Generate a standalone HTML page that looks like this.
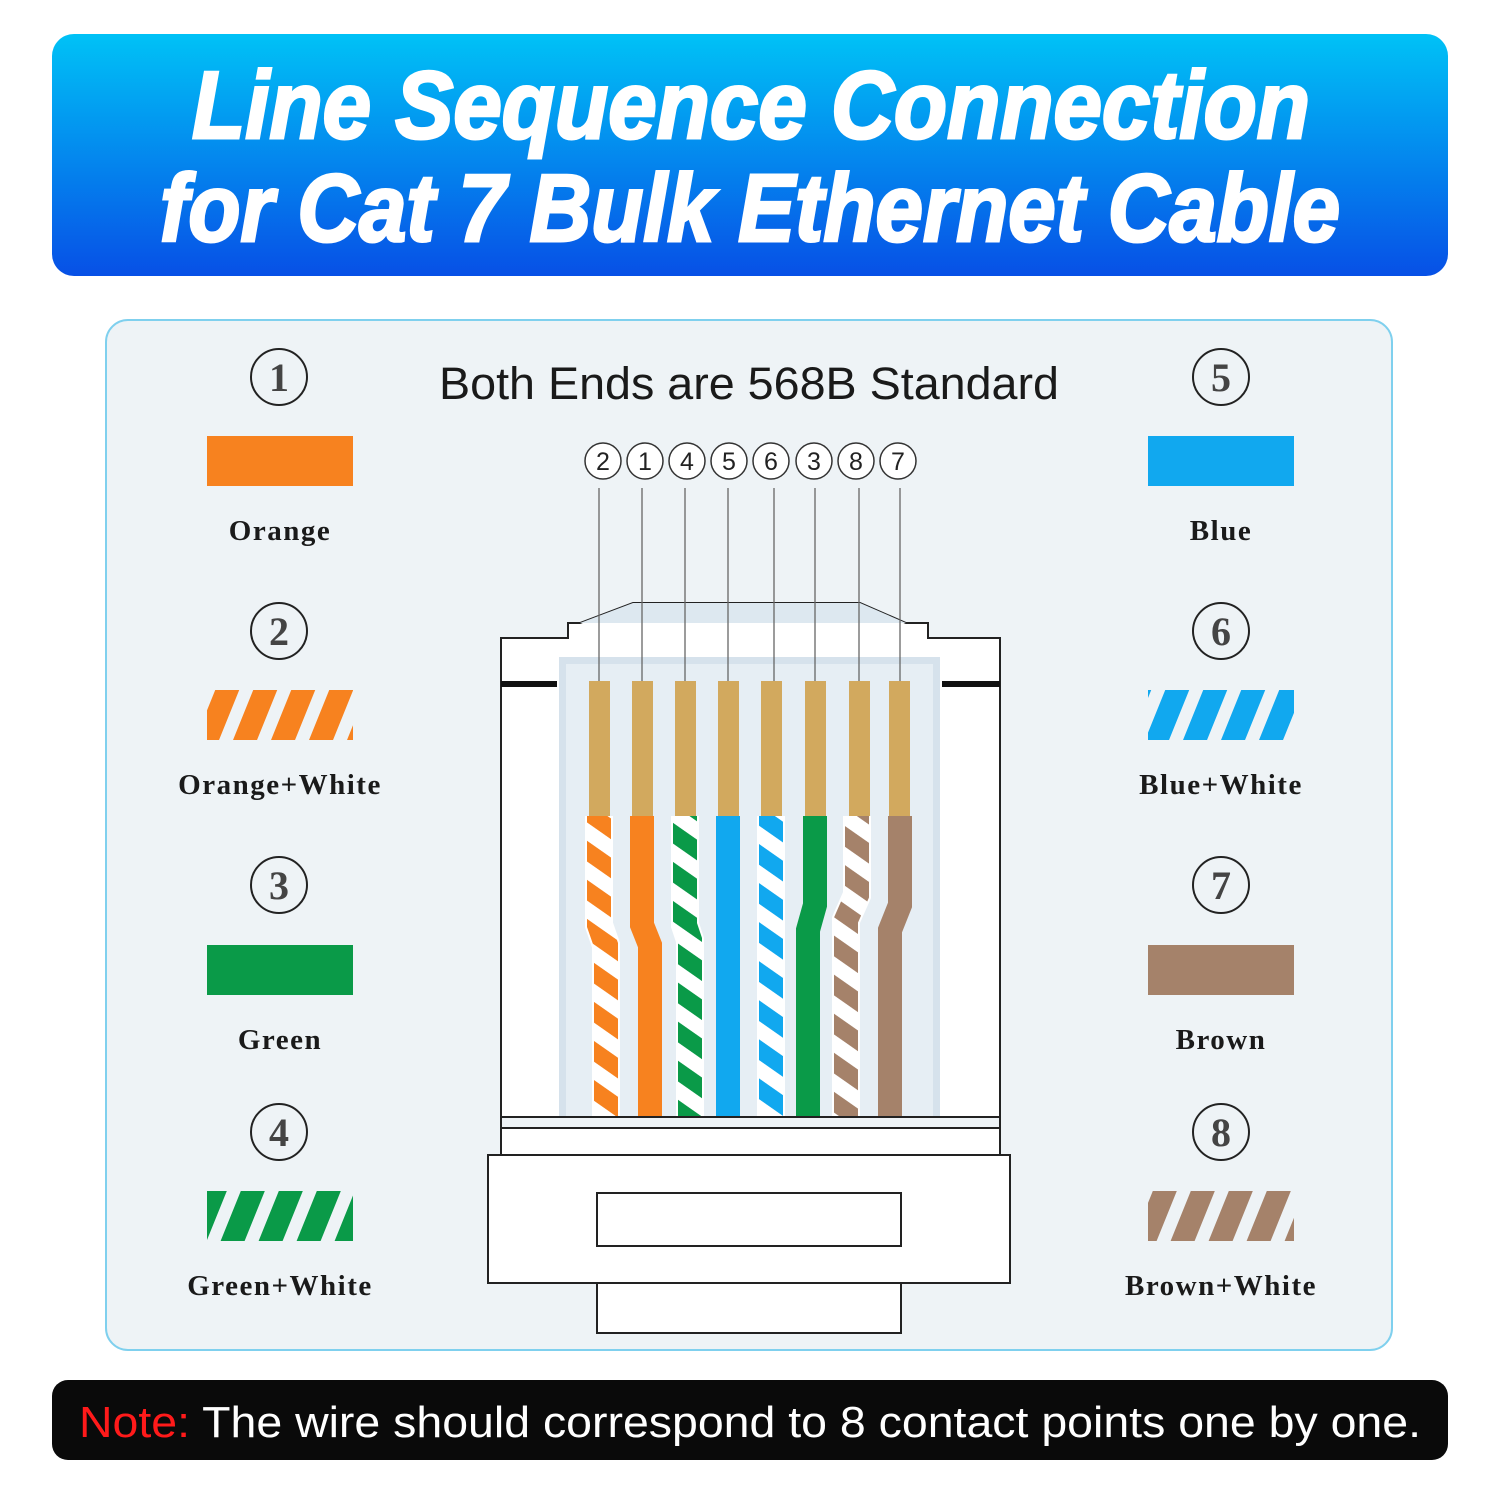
<!DOCTYPE html>
<html><head><meta charset="utf-8"><style>
html,body{margin:0;padding:0;background:#fff;}
svg{display:block;}
.t{font-family:"Liberation Sans Narrow","Liberation Sans",sans-serif;font-weight:bold;font-style:italic;fill:#fff;stroke:#fff;stroke-width:3;}
.lab{font-family:"Liberation Serif",serif;font-weight:bold;font-size:29px;fill:#1a1a1a;letter-spacing:1.5px;text-anchor:middle;}
.cn{font-family:"Liberation Serif",serif;font-weight:bold;font-size:40px;fill:#444;text-anchor:middle;}
</style></head><body>
<svg width="1500" height="1500" viewBox="0 0 1500 1500" xmlns="http://www.w3.org/2000/svg">
<defs>
<linearGradient id="hg" x1="0" y1="0" x2="0" y2="1">
<stop offset="0" stop-color="#00c2f6"/><stop offset="1" stop-color="#0750e6"/></linearGradient>
<pattern id="pO" patternUnits="userSpaceOnUse" width="38" height="50" patternTransform="skewX(-22)"><rect x="0" width="24" height="50" fill="#f7821f"/></pattern>
<pattern id="pB" patternUnits="userSpaceOnUse" width="38" height="50" patternTransform="skewX(-22)"><rect x="0" width="24" height="50" fill="#11a8ef"/></pattern>
<pattern id="pG" patternUnits="userSpaceOnUse" width="38" height="50" patternTransform="skewX(-22)"><rect x="0" width="24" height="50" fill="#0a9a48"/></pattern>
<pattern id="pN" patternUnits="userSpaceOnUse" width="38" height="50" patternTransform="skewX(-22)"><rect x="0" width="24" height="50" fill="#a5826a"/></pattern>
<pattern id="wO" patternUnits="userSpaceOnUse" width="40" height="32" patternTransform="rotate(35)"><rect width="40" height="32" fill="#fff"/><rect width="40" height="17" fill="#f7821f"/></pattern>
<pattern id="wG" patternUnits="userSpaceOnUse" width="40" height="32" patternTransform="rotate(35)"><rect width="40" height="32" fill="#fff"/><rect width="40" height="17" fill="#0a9a48"/></pattern>
<pattern id="wB" patternUnits="userSpaceOnUse" width="40" height="32" patternTransform="rotate(35)"><rect width="40" height="32" fill="#fff"/><rect width="40" height="17" fill="#11a8ef"/></pattern>
<pattern id="wN" patternUnits="userSpaceOnUse" width="40" height="32" patternTransform="rotate(35)"><rect width="40" height="32" fill="#fff"/><rect width="40" height="17" fill="#a5826a"/></pattern>
</defs>
<rect width="1500" height="1500" fill="#fff"/>
<rect x="52" y="34" width="1396" height="242" rx="22" fill="url(#hg)"/>
<text class="t" x="751" y="138" font-size="96" text-anchor="middle" textLength="1118" lengthAdjust="spacingAndGlyphs">Line Sequence Connection</text>
<text class="t" x="750" y="241" font-size="96" text-anchor="middle" textLength="1180" lengthAdjust="spacingAndGlyphs">for Cat 7 Bulk Ethernet Cable</text>
<rect x="106" y="320" width="1286" height="1030" rx="22" fill="#eef3f6" stroke="#7fd0ee" stroke-width="2"/>
<text x="749" y="399" font-family="Liberation Sans, sans-serif" font-size="45" fill="#1a1a1a" text-anchor="middle" textLength="620" lengthAdjust="spacingAndGlyphs">Both Ends are 568B Standard</text>
<g>
<circle cx="279" cy="377" r="28" fill="none" stroke="#222" stroke-width="2"/><text class="cn" x="279" y="391">1</text>
<rect x="207" y="436" width="146" height="50" fill="#f7821f"/>
<text class="lab" x="280" y="540">Orange</text>
<circle cx="279" cy="631" r="28" fill="none" stroke="#222" stroke-width="2"/><text class="cn" x="279" y="645">2</text>
<rect x="207" y="690" width="146" height="50" fill="url(#pO)"/>
<text class="lab" x="280" y="794">Orange+White</text>
<circle cx="279" cy="885" r="28" fill="none" stroke="#222" stroke-width="2"/><text class="cn" x="279" y="899">3</text>
<rect x="207" y="945" width="146" height="50" fill="#0a9a48"/>
<text class="lab" x="280" y="1049">Green</text>
<circle cx="279" cy="1132" r="28" fill="none" stroke="#222" stroke-width="2"/><text class="cn" x="279" y="1146">4</text>
<rect x="207" y="1191" width="146" height="50" fill="url(#pG)"/>
<text class="lab" x="280" y="1295">Green+White</text>
</g>
<g>
<circle cx="1221" cy="377" r="28" fill="none" stroke="#222" stroke-width="2"/><text class="cn" x="1221" y="391">5</text>
<rect x="1148" y="436" width="146" height="50" fill="#11a8ef"/>
<text class="lab" x="1221" y="540">Blue</text>
<circle cx="1221" cy="631" r="28" fill="none" stroke="#222" stroke-width="2"/><text class="cn" x="1221" y="645">6</text>
<rect x="1148" y="690" width="146" height="50" fill="url(#pB)"/>
<text class="lab" x="1221" y="794">Blue+White</text>
<circle cx="1221" cy="885" r="28" fill="none" stroke="#222" stroke-width="2"/><text class="cn" x="1221" y="899">7</text>
<rect x="1148" y="945" width="146" height="50" fill="#a5826a"/>
<text class="lab" x="1221" y="1049">Brown</text>
<circle cx="1221" cy="1132" r="28" fill="none" stroke="#222" stroke-width="2"/><text class="cn" x="1221" y="1146">8</text>
<rect x="1148" y="1191" width="146" height="50" fill="url(#pN)"/>
<text class="lab" x="1221" y="1295">Brown+White</text>
</g>
<path d="M501 1155 L501 638 L568 638 L568 623 L580 623 L633 603 L860 603 L906 623 L928 623 L928 638 L1000 638 L1000 1155" fill="#fff" stroke="#222" stroke-width="2"/>
<path d="M580 623 L633 603 L860 603 L906 623 Z" fill="#dde8f0"/>
<rect x="559" y="657" width="381" height="470" fill="#d6e2ec"/>
<rect x="566" y="664" width="367" height="455" fill="#e6eef4"/>
<rect x="501" y="681" width="56" height="6" fill="#111"/>
<rect x="942" y="681" width="58" height="6" fill="#111"/>
<g font-family="Liberation Sans, sans-serif" font-size="25" fill="#222" text-anchor="middle">
<g fill="#fff" stroke="#333" stroke-width="1.5">
<circle cx="603" cy="461" r="18"/><circle cx="645" cy="461" r="18"/><circle cx="687" cy="461" r="18"/><circle cx="729" cy="461" r="18"/><circle cx="771" cy="461" r="18"/><circle cx="814" cy="461" r="18"/><circle cx="856" cy="461" r="18"/><circle cx="898" cy="461" r="18"/>
</g>
<text x="603" y="470">2</text><text x="645" y="470">1</text><text x="687" y="470">4</text><text x="729" y="470">5</text><text x="771" y="470">6</text><text x="814" y="470">3</text><text x="856" y="470">8</text><text x="898" y="470">7</text>
</g>
<g stroke="#666" stroke-width="1.3">
<line x1="599" y1="488" x2="599" y2="681"/><line x1="642" y1="488" x2="642" y2="681"/><line x1="685" y1="488" x2="685" y2="681"/><line x1="728" y1="488" x2="728" y2="681"/><line x1="774" y1="488" x2="774" y2="681"/><line x1="815" y1="488" x2="815" y2="681"/><line x1="859" y1="488" x2="859" y2="681"/><line x1="900" y1="488" x2="900" y2="681"/>
</g>
<g fill="#d2a95e">
<rect x="589" y="681" width="21" height="140"/><rect x="632" y="681" width="21" height="140"/><rect x="675" y="681" width="21" height="140"/><rect x="718" y="681" width="21" height="140"/><rect x="761" y="681" width="21" height="140"/><rect x="805" y="681" width="21" height="140"/><rect x="849" y="681" width="21" height="140"/><rect x="889" y="681" width="21" height="140"/>
</g>
<g fill="none" stroke-width="24">
<path d="M599 816 V925 L606 945 V1117" stroke="#fff" stroke-width="28"/>
<path d="M599 816 V925 L606 945 V1117" stroke="url(#wO)"/>
<path d="M642 816 V925 L650 945 V1117" stroke="#f7821f"/>
<path d="M685 816 V925 L690 940 V1117" stroke="#fff" stroke-width="28"/>
<path d="M685 816 V925 L690 940 V1117" stroke="url(#wG)"/>
<path d="M728 816 V1117" stroke="#11a8ef"/>
<path d="M771 816 V1117" stroke="#fff" stroke-width="28"/>
<path d="M771 816 V1117" stroke="url(#wB)"/>
<path d="M815 816 V905 L808 930 V1117" stroke="#0a9a48"/>
<path d="M857 816 V895 L846 920 V1117" stroke="#fff" stroke-width="28"/>
<path d="M857 816 V895 L846 920 V1117" stroke="url(#wN)"/>
<path d="M900 816 V905 L890 930 V1117" stroke="#a5826a"/>
</g>
<line x1="501" y1="1117" x2="1000" y2="1117" stroke="#222" stroke-width="2"/>
<rect x="501" y="1118" width="499" height="10" fill="#eef3f6"/>
<line x1="501" y1="1128" x2="1000" y2="1128" stroke="#222" stroke-width="2"/>
<line x1="501" y1="1117" x2="501" y2="1155" stroke="#222" stroke-width="2"/>
<line x1="1000" y1="1117" x2="1000" y2="1155" stroke="#222" stroke-width="2"/>
<rect x="488" y="1155" width="522" height="128" fill="#fff" stroke="#222" stroke-width="2"/>
<rect x="597" y="1193" width="304" height="53" fill="#fff" stroke="#222" stroke-width="2"/>
<rect x="597" y="1283" width="304" height="50" fill="#fff" stroke="#222" stroke-width="2"/>
<rect x="52" y="1380" width="1396" height="80" rx="16" fill="#0a0a0a"/>
<text x="750" y="1437" font-family="Liberation Sans, sans-serif" font-size="44" text-anchor="middle" textLength="1342" lengthAdjust="spacingAndGlyphs"><tspan fill="#ff1a1a">Note: </tspan><tspan fill="#fff">The wire should correspond to 8 contact points one by one.</tspan></text>
</svg>
</body></html>
